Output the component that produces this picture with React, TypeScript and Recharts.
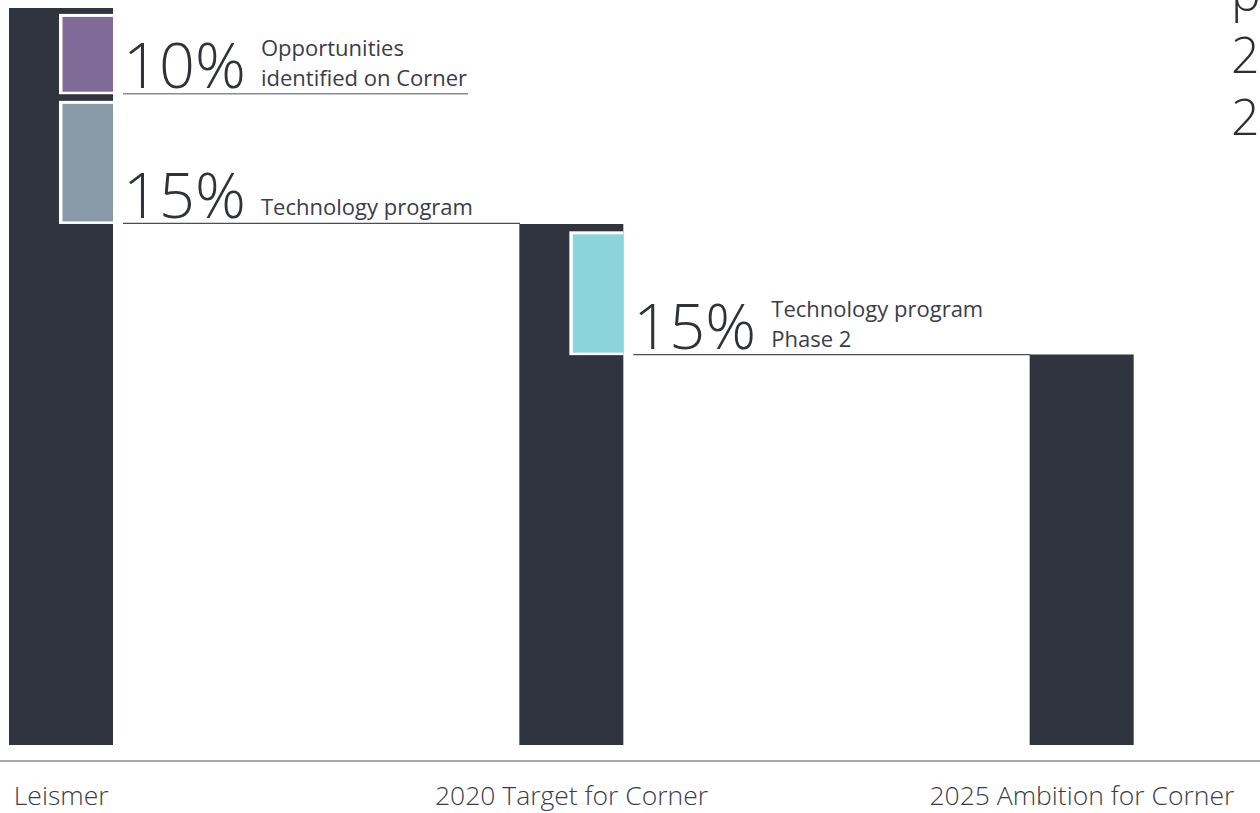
import { Bar, BarChart, XAxis, YAxis } from "recharts";

const categories = ["Leismer", "2020 Target for Corner", "2025 Ambition for Corner"];
const totals = [100, 70.7, 53];
// [low, high] ranges of the highlight boxes
const opportunities: ([number, number] | null)[] = [[88.3, 99.2], null, null];
const technology: ([number, number] | null)[] = [[70.7, 87.4], [52.9, 69.7], null];
const oppColors = ["#7f6a98"];
const techColors = ["#8899a7", "#8bd3dd"];
const oppLabels = [{ pct: "10%", lines: ["Opportunities", "identified on Corner"] }];
const techLabels = [
  { pct: "15%", lines: ["Technology program"] },
  { pct: "15%", lines: ["Technology program", "Phase 2"] },
];
const cornerLetters = ["p", "2", "2"];

const data = categories.map((name, i) => ({
  name,
  total: totals[i],
  opp: opportunities[i],
  tech: technology[i],
}));

const FONT = "'Open Sans', sans-serif";
const DARK = "#30343e";

const makeOverlay =
  (colors: string[], labels: { pct: string; lines: string[] }[], lineLen: number, lineColor: string, lineWidth: number) =>
  (props: any) => {
    const { x, y, width, height, index } = props;
    const label = labels[index];
    if (!label || !height) return <g />;
    const top = Math.min(y, y + height);
    const h = Math.abs(height);
    const center = x + width / 2;
    const right = x + width;
    const bottom = top + h;
    const n = label.lines.length;
    return (
      <g>
        <rect x={center - 2} y={top} width={right - center + 2} height={h} fill="#fff" />
        <rect x={center + 1.5} y={top + 3} width={right - center - 1.5} height={h - 5.5} fill={colors[index]} />
        <line x1={right + 10} x2={right + 10 + lineLen} y1={bottom - 0.5} y2={bottom - 0.5} stroke={lineColor} strokeWidth={lineWidth} />
        <text x={right + 10} y={bottom - 6} fontFamily={FONT} fontWeight={300} fontSize={63} fill="#2f323b">
          {label.pct}
        </text>
        {label.lines.map((t, i) => (
          <text
            key={i}
            x={right + 148}
            y={bottom - 8.5 - (n - 1 - i) * 29.5}
            fontFamily={FONT}
            fontSize={22}
            fill="#3a3d47"
          >
            {t}
          </text>
        ))}
      </g>
    );
  };

const CategoryTick = (props: any) => {
  const { x, y, payload } = props;
  return (
    <text x={x} y={y + 36} textAnchor="middle" fontFamily={FONT} fontWeight={300} fontSize={26.5} fill="#3a3d47">
      {payload.value}
    </text>
  );
};

export default function App() {
  return (
    <div style={{ width: 1260, height: 813 }}>
      <style>{"body{margin:0}"}</style>
      <BarChart width={1260} height={813} data={data} margin={{ top: 8, right: -77, bottom: 0, left: -194 }}>
        <XAxis
          xAxisId="main"
          dataKey="name"
          height={52}
          axisLine={{ stroke: "#a7a7ae", strokeWidth: 2 }}
          tickLine={false}
          tick={<CategoryTick />}
          interval={0}
        />
        <XAxis xAxisId="o1" dataKey="name" hide />
        <XAxis xAxisId="o2" dataKey="name" hide />
        <YAxis type="number" domain={[-2.17, 100]} hide allowDataOverflow />
        <Bar xAxisId="main" dataKey="total" fill={DARK} barSize={104} isAnimationActive={false} />
        <Bar
          xAxisId="o1"
          dataKey="opp"
          barSize={104}
          isAnimationActive={false}
          shape={makeOverlay(oppColors, oppLabels, 345, "#8a8b96", 1.6)}
        />
        <Bar
          xAxisId="o2"
          dataKey="tech"
          barSize={104}
          isAnimationActive={false}
          shape={makeOverlay(techColors, techLabels, 397, "#4a4e5a", 1.2)}
        />
        {cornerLetters.map((c, i) => (
          <text key={i} x={1231} y={11 + i * 62} fontFamily={FONT} fontWeight={300} fontSize={50} fill="#2b2e36">
            {c}
          </text>
        ))}
      </BarChart>
    </div>
  );
}
